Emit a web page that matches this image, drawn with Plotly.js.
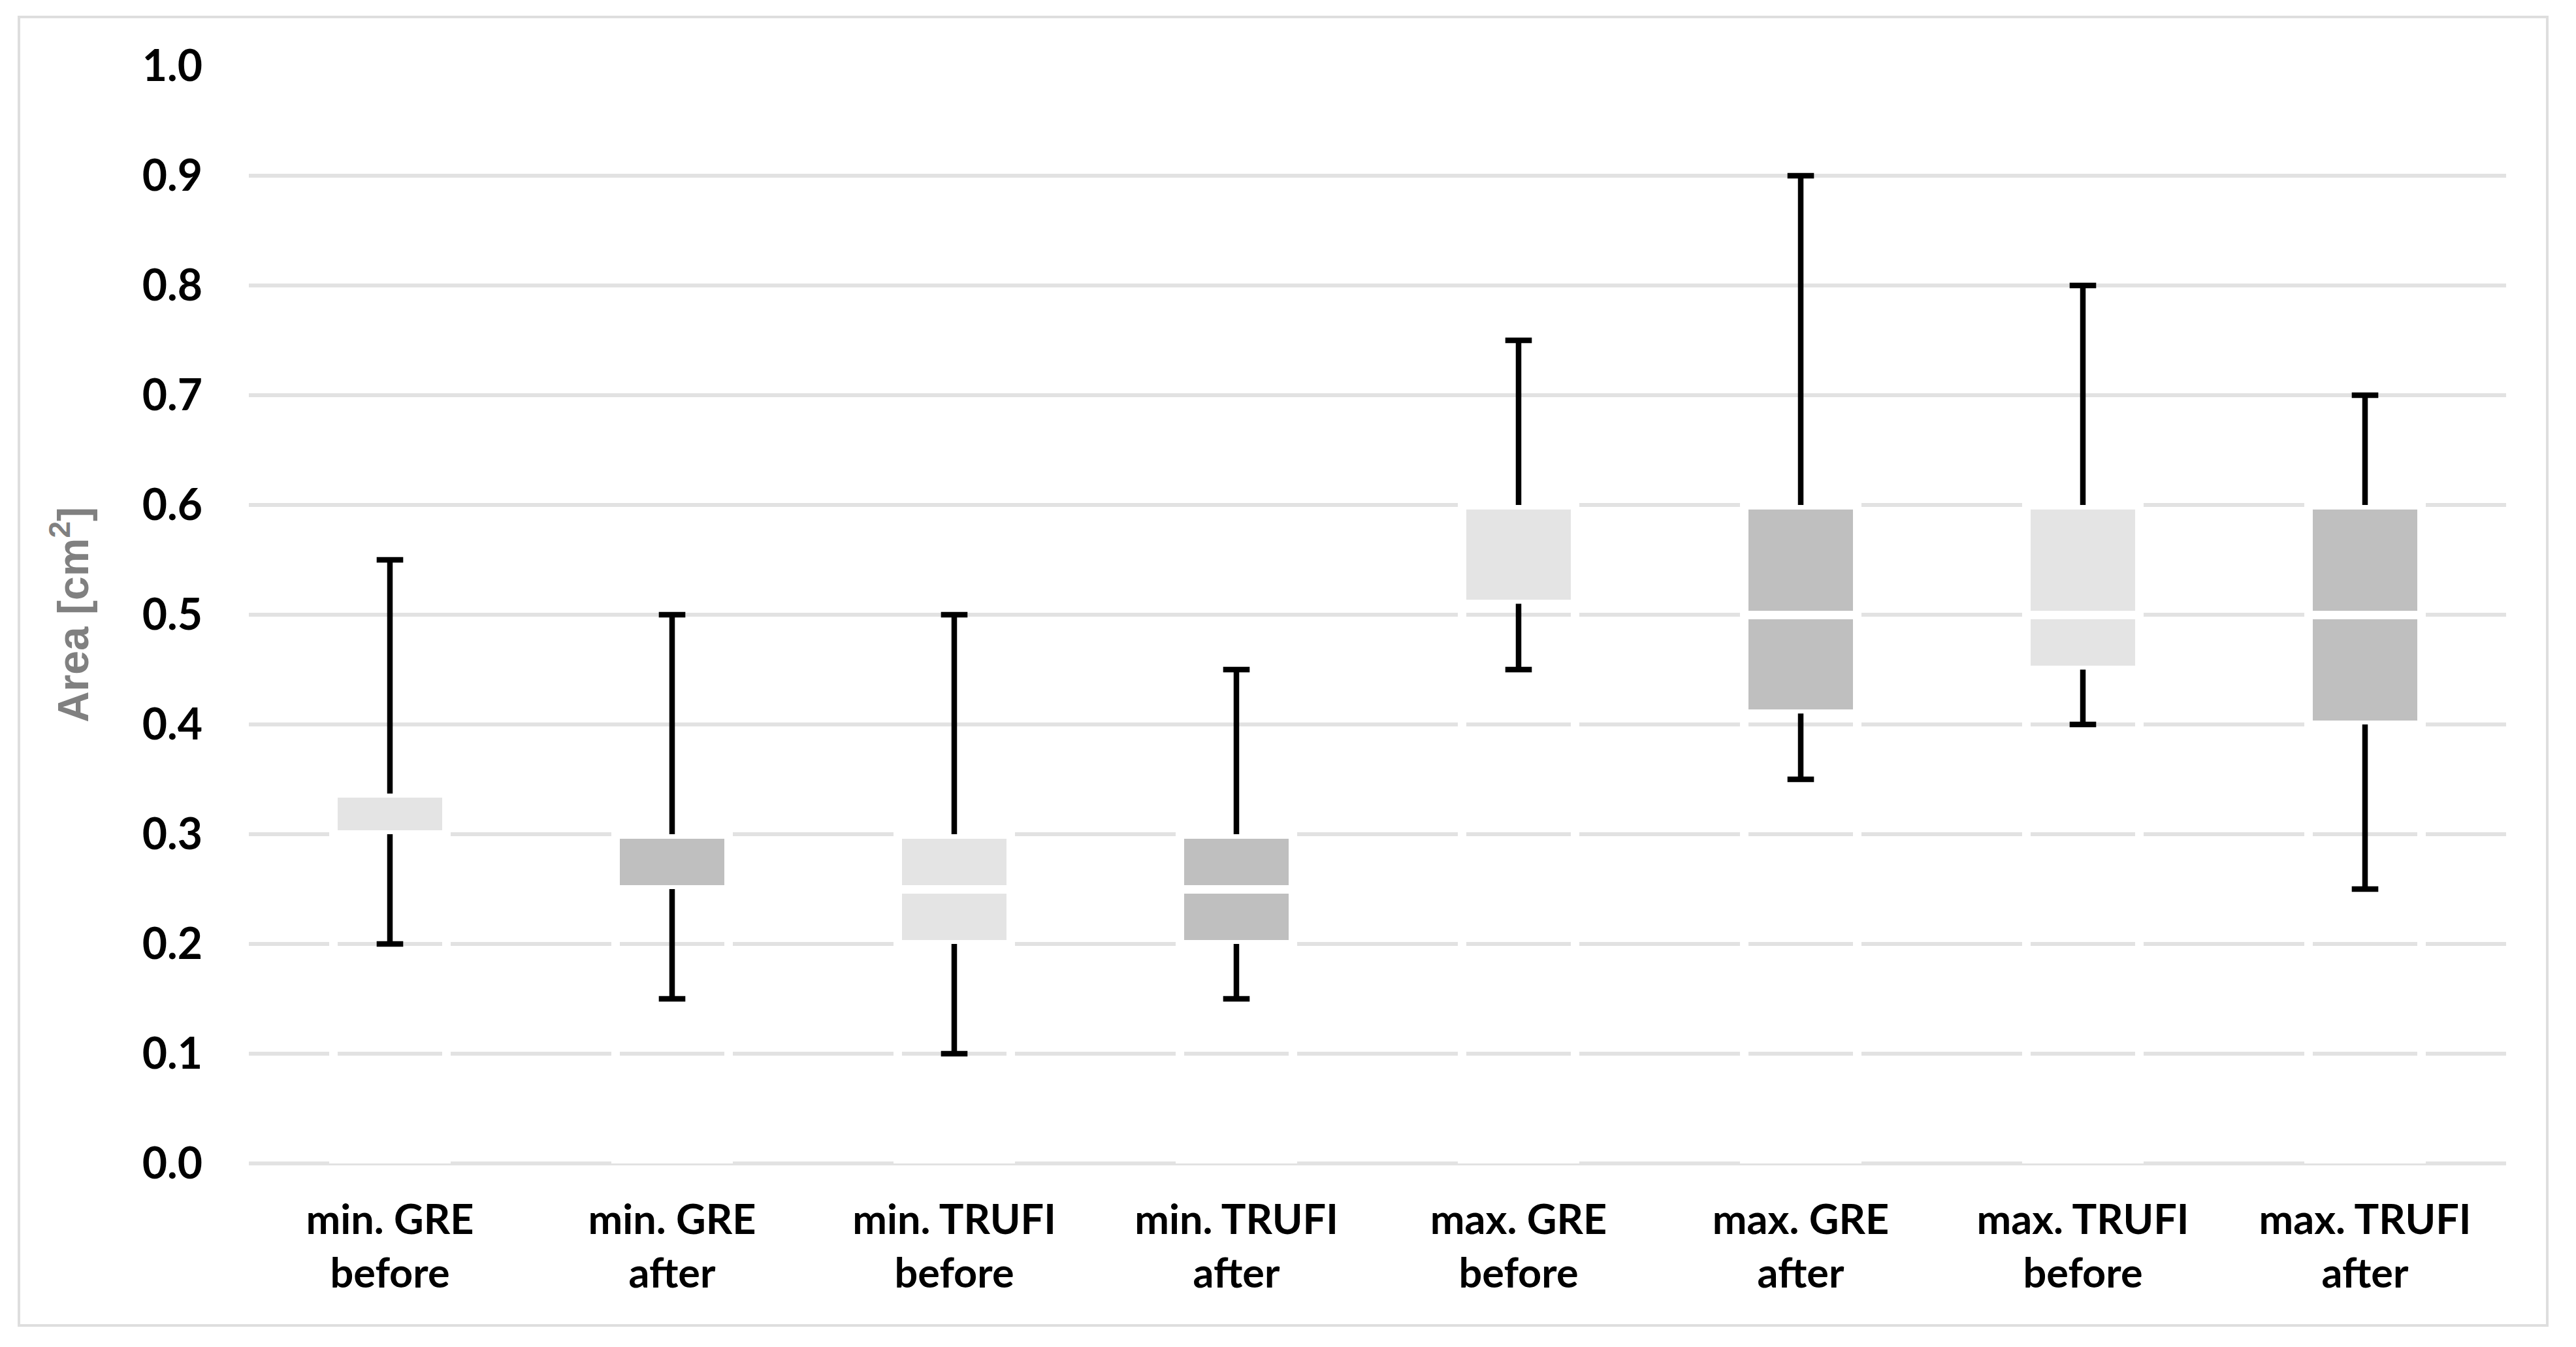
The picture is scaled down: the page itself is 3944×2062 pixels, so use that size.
<!DOCTYPE html>
<html>
<head>
<meta charset="utf-8">
<script src="https://cdn.plot.ly/plotly-3.0.1.min.js"></script>
<style>
  html, body { margin: 0; padding: 0; background: #ffffff; }
  #chart { width: 3944px; height: 2062px; }
</style>
</head>
<body>
<div id="chart"></div>
<script>
// ---- data ----
var categories = [
  'min. GRE<br>before', 'min. GRE<br>after',
  'min. TRUFI<br>before', 'min. TRUFI<br>after',
  'max. GRE<br>before', 'max. GRE<br>after',
  'max. TRUFI<br>before', 'max. TRUFI<br>after'
];
var minValues    = [0.20, 0.15, 0.10, 0.15, 0.45, 0.35, 0.40, 0.25];
var q1Values     = [0.30, 0.25, 0.20, 0.20, 0.51, 0.41, 0.45, 0.40];
var medianValues = [0.30, 0.25, 0.25, 0.25, 0.60, 0.50, 0.50, 0.50];
var q3Values     = [0.337, 0.30, 0.30, 0.30, 0.60, 0.60, 0.60, 0.60];
var maxValues    = [0.55, 0.50, 0.50, 0.45, 0.75, 0.90, 0.80, 0.70];
var boxColors    = ['#e4e4e4', '#bfbfbf', '#e4e4e4', '#bfbfbf',
                    '#e4e4e4', '#bfbfbf', '#e4e4e4', '#bfbfbf'];
var yTickValues  = [0, 0.1, 0.2, 0.3, 0.4, 0.5, 0.6, 0.7, 0.8, 0.9, 1.0];

// ---- derived series for the stacked-bar box plot ----
var lowerBox = medianValues.map(function (m, i) { return +(m - q1Values[i]).toFixed(4); });
var upperBox = q3Values.map(function (q, i) { return +(q - medianValues[i]).toFixed(4); });

var stemX = [], stemY = [], capX = [], capY = [];
categories.forEach(function (c, i) {
  stemX.push(c, c, null, c, c, null);
  stemY.push(q3Values[i], maxValues[i], null, q1Values[i], minValues[i], null);
  capX.push(c, c);
  capY.push(maxValues[i], minValues[i]);
});

var outline = { color: '#ffffff', width: 13 };

var traces = [
  { type: 'bar', x: categories, y: q1Values, name: 'base',
    marker: { color: 'rgba(0,0,0,0)', line: outline }, hoverinfo: 'skip' },
  { type: 'bar', x: categories, y: lowerBox, name: 'Q1-median',
    marker: { color: boxColors, line: outline } },
  { type: 'bar', x: categories, y: upperBox, name: 'median-Q3',
    marker: { color: boxColors, line: outline } },
  { type: 'scatter', mode: 'lines', x: stemX, y: stemY, connectgaps: false,
    line: { color: '#000000', width: 8.5 }, hoverinfo: 'skip' },
  { type: 'scatter', mode: 'markers', x: capX, y: capY,
    marker: { symbol: 'line-ew', size: 29, color: '#000000',
              line: { color: '#000000', width: 8.5 } }, hoverinfo: 'skip' }
];

var L = 381, R = 3837, T = 101, B = 1781;
var W = 3944, H = 2062;
var pw = R - L, ph = B - T;
function px(x) { return (x - L) / pw; }
function py(y) { return (B - y) / ph; }

var layout = {
  width: W, height: H,
  paper_bgcolor: '#ffffff', plot_bgcolor: '#ffffff',
  margin: { l: L, r: W - R, t: T, b: H - B, pad: 0 },
  showlegend: false,
  barmode: 'stack',
  bargap: 0.6,
  xaxis: {
    type: 'category',
    categoryorder: 'array', categoryarray: categories,
    showgrid: false, zeroline: false, showline: false, ticks: '',
    tickfont: { family: 'Lato', size: 63, color: '#000000', weight: 'bold' },
    ticklabelstandoff: 44,
    automargin: false
  },
  yaxis: {
    range: [0, 1.0],
    tickvals: yTickValues, tickformat: '.1f',
    showgrid: true, gridcolor: '#e2e2e2', gridwidth: 5.5,
    zeroline: true, zerolinecolor: '#e2e2e2', zerolinewidth: 5.5,
    showline: false, ticks: '',
    tickfont: { family: 'Lato', size: 66, color: '#000000', weight: 'bold' },
    ticklabelstandoff: 70,
    automargin: false,
    title: { text: 'Area [cm<sup>2</sup>]', standoff: 60,
             font: { family: 'Liberation Sans', size: 66, color: '#808080', weight: 'bold' } }
  },
  shapes: [
    { type: 'rect', xref: 'paper', yref: 'paper', layer: 'below',
      x0: px(29), x1: px(3900), y0: py(2029), y1: py(26),
      line: { color: '#dedede', width: 4 }, fillcolor: 'rgba(0,0,0,0)' }
  ]
};

Plotly.newPlot('chart', traces, layout, { staticPlot: true, displayModeBar: false });
</script>
</body>
</html>
